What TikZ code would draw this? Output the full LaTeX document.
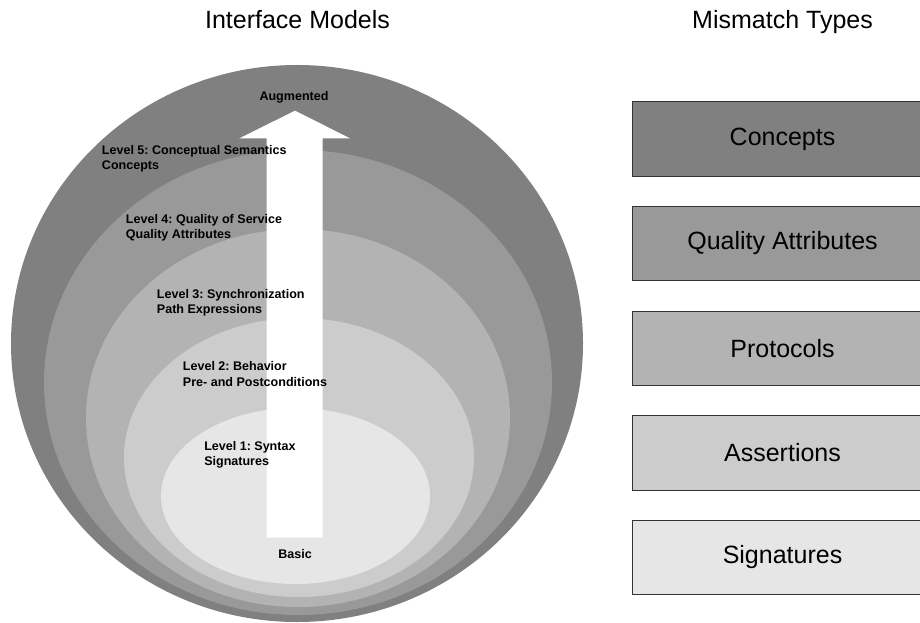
\documentclass[tikz,border=0pt]{standalone}
\usepackage{fontspec}
\setmainfont{Liberation Sans}
\frenchspacing
\definecolor{g1}{HTML}{E6E6E6}
\definecolor{g2}{HTML}{CCCCCC}
\definecolor{g3}{HTML}{B3B3B3}
\definecolor{g4}{HTML}{999999}
\definecolor{g5}{HTML}{808080}
\definecolor{edge}{HTML}{333333}
\begin{document}
\begin{tikzpicture}[x=0.75pt,y=-0.75pt,
  title/.style={font=\fontsize{18.75}{22}\selectfont, anchor=base, inner sep=0pt},
  lvl/.style={font=\fontsize{9.4}{11.3}\selectfont\bfseries\frenchspacing, align=left, anchor=west, inner sep=0pt},
  tag/.style={font=\fontsize{9.4}{11.3}\selectfont\bfseries, anchor=base, inner sep=0pt},
  mbox/.style={draw=edge, line width=0.75pt, minimum width=301*0.75pt, minimum height=74.5*0.75pt, inner sep=0pt, font=\fontsize{18.75}{22}\selectfont}]
\useasboundingbox (0,0) rectangle (920,623);
% nested ellipses
\fill[g5] (297,343.5) ellipse [x radius=286, y radius=278.5];
\fill[g4] (298,382.5) ellipse [x radius=254, y radius=232.5];
\fill[g3] (298,418) ellipse [x radius=212, y radius=189];
\fill[g2] (299,457.5) ellipse [x radius=175, y radius=139.5];
\fill[g1] (295.5,496) ellipse [x radius=134.5, y radius=88];
% arrow
\fill[white] (266.7,537.7) -- (266.7,138.3) -- (239.4,138.3) -- (295,110.7) -- (350,138.3) -- (322.7,138.3) -- (322.7,537.7) -- cycle;
% titles
\node[title] (t1) at (297.5,29) {Interface Models};
\node[title] (t2) at (782.5,29) {Mismatch Types};
% labels
\node[tag] (aug) at (294,100.5) {Augmented};
\node[tag] (bas) at (295,558.5) {Basic};
\node[lvl] (l5) at (101.7,159) {Level 5: Conceptual Semantics\\Concepts};
\node[lvl] (l4) at (125.7,227.5) {Level 4: Quality of Service\\Quality Attributes};
\node[lvl] (l3) at (156.7,302.5) {Level 3: Synchronization\\Path Expressions};
\node[lvl] (l2) at (182.7,374) {Level 2: Behavior\\Pre- and Postconditions};
\node[lvl] (l1) at (204,455) {Level 1: Syntax\\Signatures};
% mismatch boxes
\node[mbox, fill=g5] (m5) at (782.5,139) {Concepts};
\node[mbox, fill=g4] (m4) at (782.5,243.5) {Quality Attributes};
\node[mbox, fill=g3] (m3) at (782.5,348.5) {Protocols};
\node[mbox, fill=g2] (m2) at (782.5,453) {Assertions};
\node[mbox, fill=g1] (m1) at (782.5,557.5) {Signatures};
\end{tikzpicture}
\end{document}
